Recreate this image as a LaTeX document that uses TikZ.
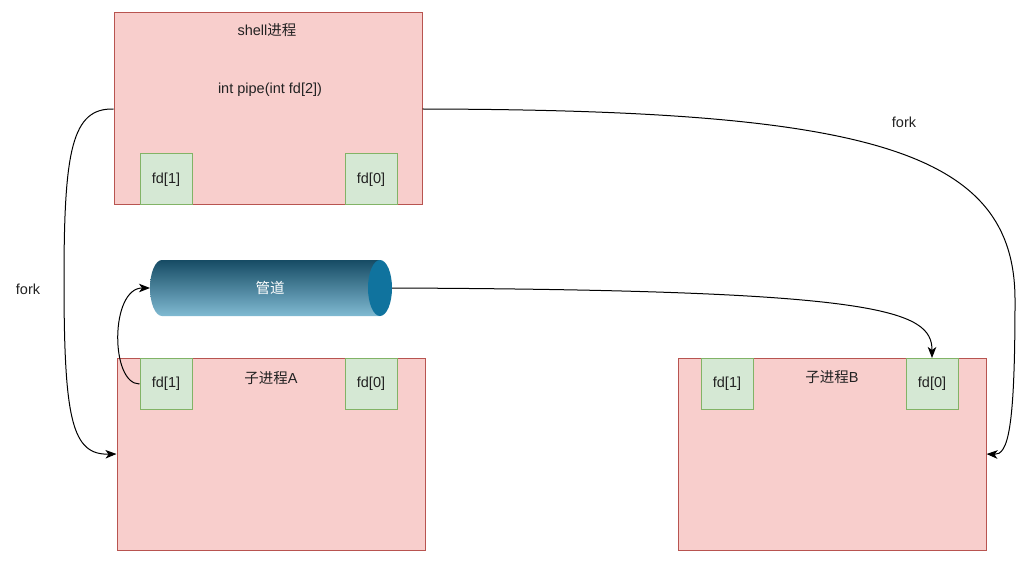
\documentclass[tikz,border=0pt]{standalone}
\usepackage{fontspec}
\setmainfont{Liberation Sans}
\newfontfamily\cjk{Noto Sans CJK SC}
\usetikzlibrary{arrows.meta,shapes.geometric}
\definecolor{pinkfill}{HTML}{F8CECC}
\definecolor{pinkline}{HTML}{B85450}
\definecolor{greenfill}{HTML}{D5E8D4}
\definecolor{greenline}{HTML}{82B366}
\definecolor{pipetop}{HTML}{164B64}
\definecolor{pipebot}{HTML}{80BAD2}
\definecolor{pipeend}{HTML}{10739E}
\definecolor{txt}{HTML}{222222}
\begin{document}
\begin{tikzpicture}[x=1pt,y=-1pt,
  proc/.style={draw=pinkline,fill=pinkfill,line width=1pt},
  fdbox/.style={draw=greenline,fill=greenfill,line width=1pt,minimum width=52pt,minimum height=51pt,inner sep=0pt,font=\fontsize{14.5}{17}\selectfont,text=txt},
  lbl/.style={font=\fontsize{14.5}{17}\selectfont,text=txt,inner sep=0pt},
  conn/.style={draw=black,line width=1pt,-{Stealth[length=11pt,width=8.5pt,inset=3pt]}}]
\useasboundingbox (0,0) rectangle (1032,561);
\fill[white] (0,0) rectangle (1032,561);
% boxes
\node[proc,minimum width=308pt,minimum height=192pt,inner sep=0pt] (shell) at (268,109) {};
\node[proc,minimum width=308pt,minimum height=192pt,inner sep=0pt] (childA) at (271,454) {};
\node[proc,minimum width=308pt,minimum height=192pt,inner sep=0pt] (childB) at (832,454) {};
\node[lbl] (shellt) at (267,30) {shell{\cjk 进程}};
\node[lbl] (pipet) at (270,90) {int pipe(int fd[2])};
\node[lbl] (childAt) at (271,378) {{\cjk 子进程}A};
\node[lbl] (childBt) at (832,377) {{\cjk 子进程}B};
\node[fdbox] (sfd1) at (166,179.5) {fd[1]};
\node[fdbox] (sfd0) at (371,179.5) {fd[0]};
\node[fdbox] (afd1) at (166,384) {fd[1]};
\node[fdbox] (afd0) at (371,384) {fd[0]};
\node[fdbox] (bfd1) at (727,384) {fd[1]};
\node[fdbox] (bfd0) at (932,384) {fd[0]};
% pipe
\shade[top color=pipetop,bottom color=pipebot]
  (380,260) -- (162,260) arc[start angle=270,end angle=90,x radius=12pt,y radius=-28pt] -- (380,316) -- cycle;
\fill[pipeend] (380,288) ellipse[x radius=12pt,y radius=28pt];
\node[inner sep=0pt,minimum width=242pt,minimum height=56pt] (pipe) at (271,288) {};
\node[lbl,text=white] (pipel) at (270,288) {\cjk 管道};
\coordinate (pipeR) at (392,288);
\coordinate (pipeL) at (150,288);
% connectors
\draw[conn] (shell.west) .. controls (72,108) and (64,150) .. (64,280) .. controls (64,420) and (72,455) .. (childA.west);
\draw[conn] (shell.east) .. controls (870,110) and (1015,150) .. (1015,300) .. controls (1015,430) and (1008,455) .. (childB.east);
\draw[conn] (afd1.west) .. controls (110,384) and (110,288) .. (pipeL);
\draw[conn] (pipeR) .. controls (880,290) and (932,310) .. (bfd0.north);
\node[lbl] (fork1) at (28,289) {fork};
\node[lbl] (fork2) at (904,122) {fork};
\end{tikzpicture}
\end{document}
